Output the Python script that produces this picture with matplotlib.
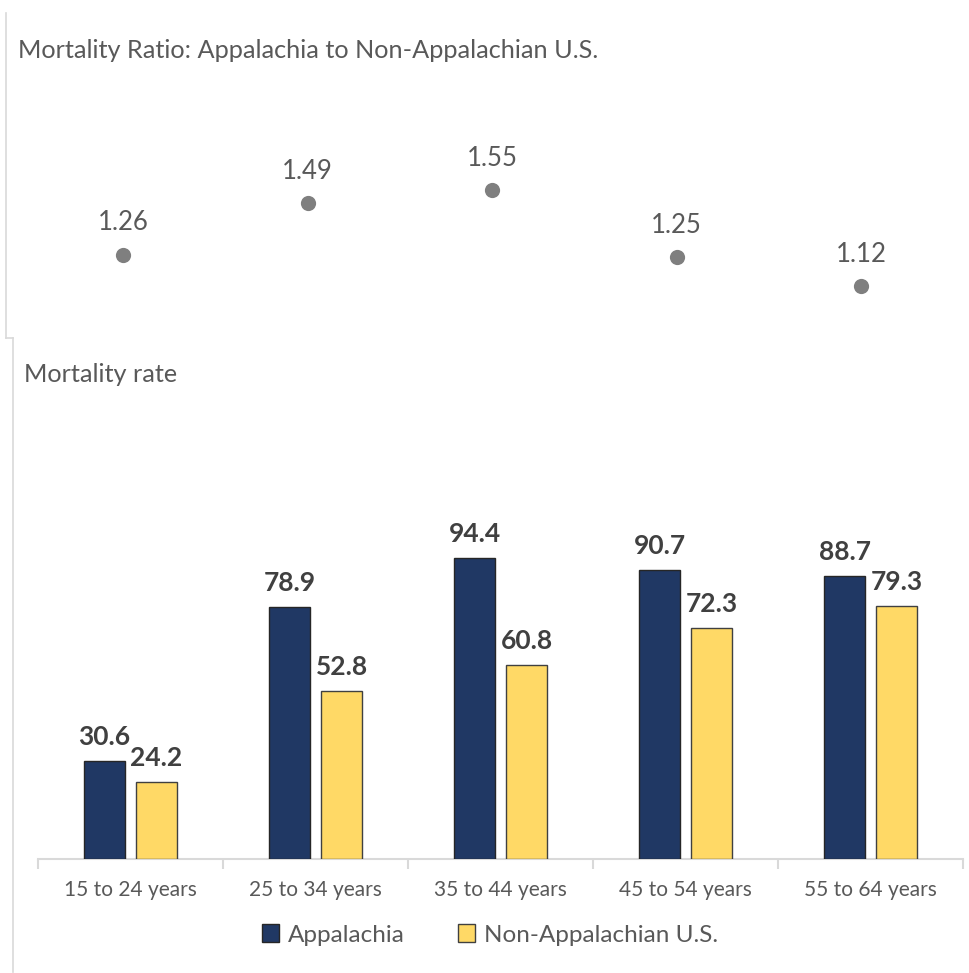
import matplotlib
matplotlib.use("Agg")
import matplotlib.pyplot as plt
from matplotlib.patches import Patch
from matplotlib.lines import Line2D

# Data
age_groups = ["15 to 24 years", "25 to 34 years", "35 to 44 years",
              "45 to 54 years", "55 to 64 years"]
appalachia = [30.6, 78.9, 94.4, 90.7, 88.7]
non_appalachia = [24.2, 52.8, 60.8, 72.3, 79.3]
ratio = [1.26, 1.49, 1.55, 1.25, 1.12]

NAVY = "#203864"
GOLD = "#FFD966"
GRAY_TXT = "#595959"
DARK_TXT = "#404040"
DOT = "#7F7F7F"
FRAME = "#D9D9D9"

FONT = "Lato"
plt.rcParams["font.family"] = [FONT, "DejaVu Sans"]

W, H = 970, 973
fig = plt.figure(figsize=(W / 100, H / 100), dpi=100)


def add_axes_px(left, top, right, bottom):
    return fig.add_axes([left / W, 1 - bottom / H, (right - left) / W, (bottom - top) / H])


def fig_xy(x, y):
    return x / W, 1 - y / H


# Panel frames
fig.add_artist(Line2D([6 / W, 6 / W], [1 - 13 / H, 1 - 338 / H], color=FRAME, lw=1.2))
fig.add_artist(Line2D([6 / W, 13 / W], [1 - 338 / H, 1 - 338 / H], color=FRAME, lw=1.2))
fig.add_artist(Line2D([13 / W, 13 / W], [1 - 338 / H, 1 - 972 / H], color=FRAME, lw=1.2))

# ---- Top panel: mortality ratio dots ----
ax_top = add_axes_px(30.75, 100, 953.25, 320)
ax_top.set_xlim(-0.5, 4.5)
ax_top.set_ylim(1.12 - (320 - 286) / 223, 1.12 + (286 - 100) / 223)
ax_top.axis("off")
xs = list(range(len(ratio)))
ax_top.scatter(xs, ratio, s=120, color=DOT, zorder=3, linewidths=0)
for x, r in zip(xs, ratio):
    ax_top.annotate(f"{r:.2f}", (x, r), xytext=(0, 32), textcoords="offset pixels",
                    ha="center", va="center", fontsize=18.5, color=GRAY_TXT)

fig.text(*fig_xy(18, 50), "Mortality Ratio: Appalachia to Non-Appalachian U.S.",
         ha="left", va="center", fontsize=18.2, color=GRAY_TXT)

# ---- Bottom panel: mortality rate bars ----
ax = add_axes_px(38, 400, 963, 859)
ax.set_xlim(-0.5, 4.5)
ax.set_ylim(0, (859 - 400) / 3.19)
off = 0.1405
bw = 0.224
b1 = ax.bar([x - off for x in xs], appalachia, bw, color=NAVY, edgecolor="#262626", linewidth=1.0, zorder=3)
b2 = ax.bar([x + off for x in xs], non_appalachia, bw, color=GOLD, edgecolor="#404040", linewidth=1.0, zorder=3)
for bars, vals in ((b1, appalachia), (b2, non_appalachia)):
    for rect, v in zip(bars, vals):
        ax.annotate(f"{v:.1f}", (rect.get_x() + rect.get_width() / 2, v), xytext=(0, 16),
                    textcoords="offset pixels", ha="center", va="baseline",
                    fontsize=19, fontweight="bold", color=DARK_TXT)

for s in ("top", "right", "left"):
    ax.spines[s].set_visible(False)
ax.spines["bottom"].set_color(FRAME)
ax.spines["bottom"].set_linewidth(1.5)
ax.set_yticks([])
ax.set_xticks(xs)
ax.set_xticklabels(age_groups, fontsize=15, color=GRAY_TXT)
ax.tick_params(axis="x", length=0, pad=15)
ax.set_xticks([x - 0.5 for x in range(len(xs) + 1)], minor=True)
ax.tick_params(axis="x", which="minor", length=7, width=1.5, color=FRAME, direction="out")

fig.text(*fig_xy(24, 374), "Mortality rate", ha="left", va="center", fontsize=18.2, color=GRAY_TXT)

handles = [Patch(facecolor=NAVY, edgecolor="#262626", label="Appalachia"),
           Patch(facecolor=GOLD, edgecolor="#404040", label="Non-Appalachian U.S.")]
fig.legend(handles=handles, loc="center", bbox_to_anchor=fig_xy(490, 935), ncol=2,
           frameon=False, fontsize=17.5, labelcolor=GRAY_TXT, handlelength=0.7,
           handleheight=0.7, handletextpad=0.35, columnspacing=2.2)

fig.savefig("out.png", dpi=100, facecolor="white")
